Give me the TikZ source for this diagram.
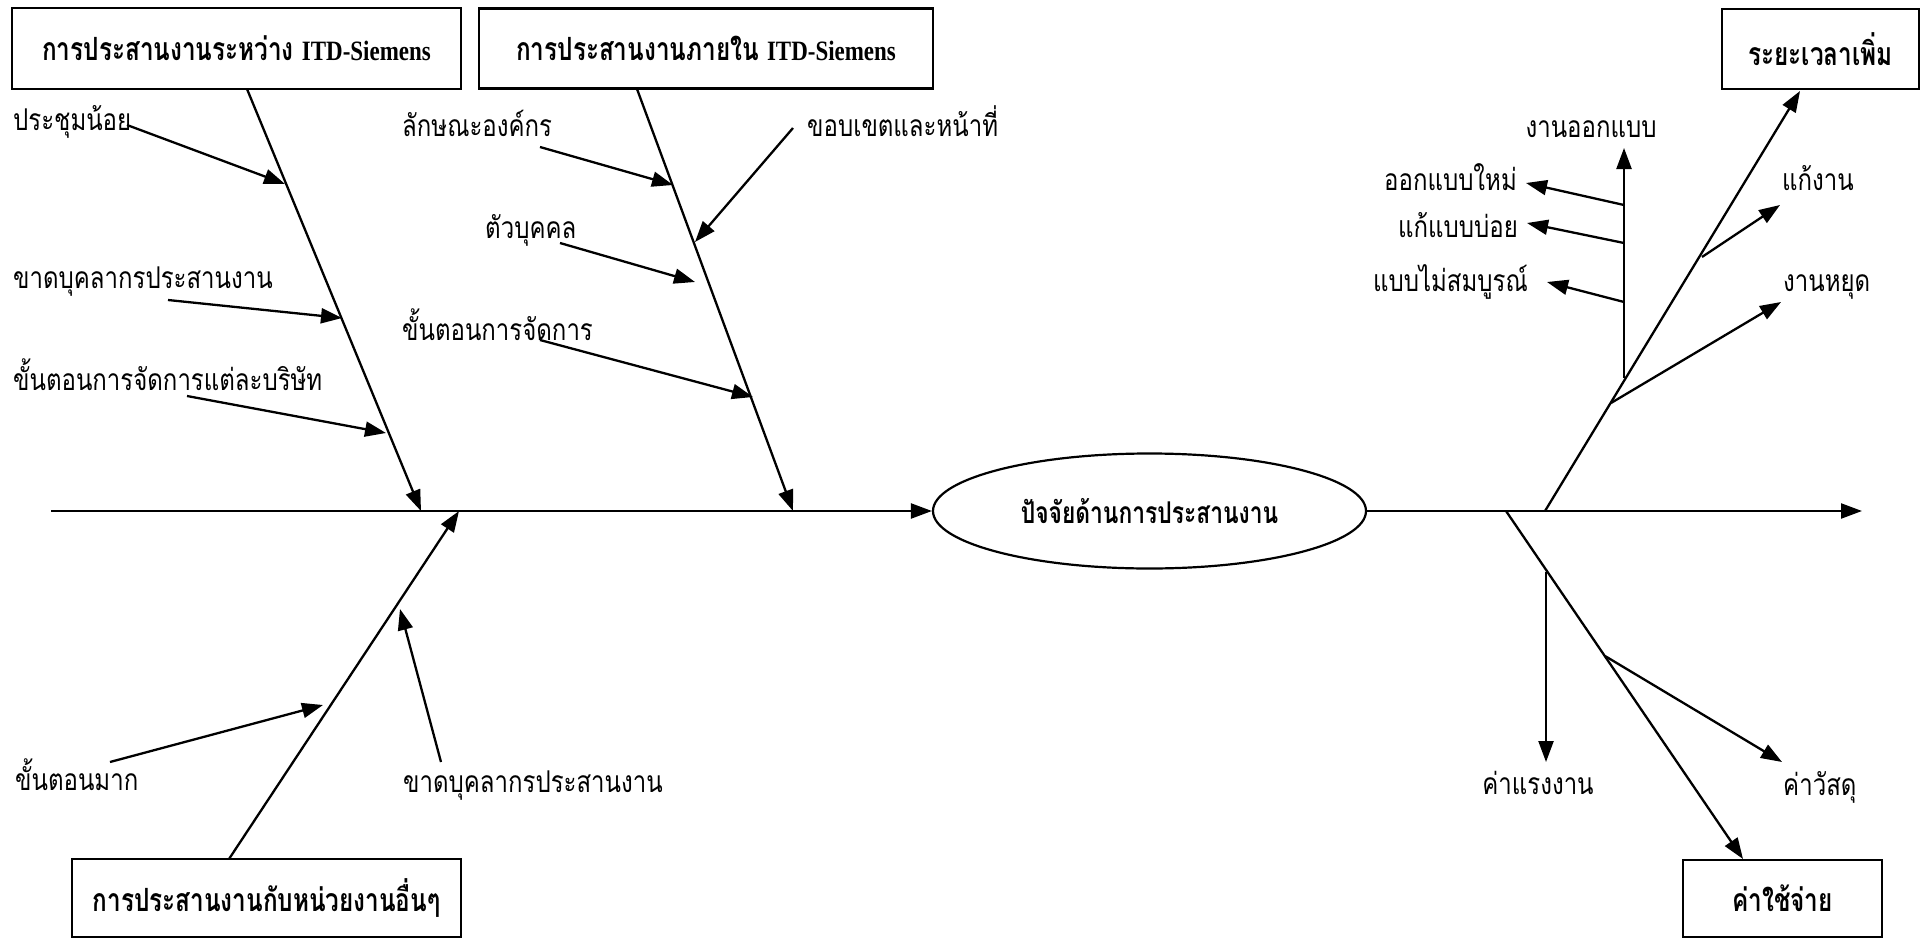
\documentclass[tikz,border=0pt]{standalone}
\usepackage{fontspec}
\setmainfont{Liberation Serif}
\newfontfamily\thai[Script=Thai,FakeStretch=0.8]{Loma}
\newfontfamily\thaib[Script=Thai,FakeStretch=0.76]{Loma}
\newfontfamily\latb[FakeStretch=0.82]{Liberation Serif}
\usetikzlibrary{arrows.meta,shapes.geometric}
\newcommand{\itd}{{\latb\bfseries\fontsize{28}{30}\selectfont ITD-Siemens}}
\begin{document}
\begin{tikzpicture}[x=1pt,y=-1pt,
  arr/.style={line width=2.3pt,-{Triangle[length=21pt,width=15pt]}},
  box/.style={draw,line width=2.4pt,inner sep=0pt,font=\thaib\bfseries\fontsize{32}{34}\selectfont},
  lbl/.style={inner sep=0pt,font=\thai\fontsize{30}{32}\selectfont},
  bw/.style={lbl,anchor=base west},
  be/.style={lbl,anchor=base east},
  bc/.style={lbl,anchor=base}]
\useasboundingbox (0,0) rectangle (1921,939);
% boxes
\node[box,minimum width=449pt,minimum height=81pt] (b1) at (236.5,48.5) {การประสานงานระหว่าง \itd};
\node[box,minimum width=454pt,minimum height=80pt] (b2) at (706,48.5) {การประสานงานภายใน \itd};
\node[box,minimum width=389pt,minimum height=78pt] (b3) at (266.5,898) {การประสานงานกับหน่วยงานอื่นๆ};
\node[box,minimum width=197pt,minimum height=80pt] (b4) at (1820.5,49) {ระยะเวลาเพิ่ม};
\node[box,minimum width=199pt,minimum height=77pt] (b5) at (1782.5,898.5) {ค่าใช้จ่าย};
\node[ellipse,draw,line width=2.2pt,inner sep=0pt,minimum width=433pt,minimum height=115pt,
  font=\thaib\bfseries\fontsize{30}{32}\selectfont] (eff) at (1149.5,511) {ปัจจัยด้านการประสานงาน};
% spine
\coordinate (tail) at (51,511);
\coordinate (head) at (1862,511);
\coordinate (J1) at (421,511);
\coordinate (J2) at (793,511);
\coordinate (J3) at (459,511);
\coordinate (J4) at (1545,511);
\coordinate (J5) at (1506,511);
\coordinate (b1t) at (247,89);
\coordinate (b2t) at (637,89);
\coordinate (b3t) at (229,859);
\coordinate (b4t) at (1800,91);
\coordinate (b5t) at (1743,859);
\draw[arr] (tail) -- (eff.west);
\draw[arr] (eff.east) -- (head);
\draw[arr] (b1t) -- (J1);
\draw[arr] (b2t) -- (J2);
\draw[arr] (b3t) -- (J3);
\draw[arr] (J4) -- (b4t);
\draw[arr] (J5) -- (b5t);
% labels bone 1
\node[bw] (l1) at (13,131) {ประชุมน้อย};
\node[bw] (l2) at (13,288) {ขาดบุคลากรประสานงาน};
\node[bw] (l3) at (13,390) {ขั้นตอนการจัดการแต่ละบริษัท};
\coordinate (l1s) at (127,125); \coordinate (l1e) at (285,184);
\coordinate (l2s) at (168,300); \coordinate (l2e) at (342,318);
\coordinate (l3s) at (187,396); \coordinate (l3e) at (386,433);
\draw[arr] (l1s) -- (l1e);
\draw[arr] (l2s) -- (l2e);
\draw[arr] (l3s) -- (l3e);
% labels bone 2
\node[bw] (m1) at (402,136) {ลักษณะองค์กร};
\node[bw] (m2) at (807,136) {ขอบเขตและหน้าที่};
\node[bw] (m3) at (485,238) {ตัวบุคคล};
\node[bw] (m4) at (402,340) {ขั้นตอนการจัดการ};
\coordinate (m1s) at (540,147); \coordinate (m1e) at (673,185);
\coordinate (m2s) at (793,128); \coordinate (m2e) at (695,242);
\coordinate (m3s) at (560,243); \coordinate (m3e) at (695,282);
\coordinate (m4s) at (540,340); \coordinate (m4e) at (753,397);
\draw[arr] (m1s) -- (m1e);
\draw[arr] (m2s) -- (m2e);
\draw[arr] (m3s) -- (m3e);
\draw[arr] (m4s) -- (m4e);
% labels bone 3
\node[bw] (n1) at (15,790) {ขั้นตอนมาก};
\node[bw] (n2) at (403,792) {ขาดบุคลากรประสานงาน};
\coordinate (n1s) at (110,762); \coordinate (n1e) at (323,705);
\coordinate (n2s) at (441,762); \coordinate (n2e) at (400,609);
\draw[arr] (n1s) -- (n1e);
\draw[arr] (n2s) -- (n2e);
% upper right
\node[bc] (r0) at (1591,138) {งานออกแบบ};
\node[be] (r1) at (1517,190) {ออกแบบใหม่};
\node[be] (r2) at (1518,237) {แก้แบบบ่อย};
\node[be] (r3) at (1528,291) {แบบไม่สมบูรณ์};
\node[bw] (r4) at (1782,190) {แก้งาน};
\node[bw] (r5) at (1783,291) {งานหยุด};
\coordinate (r0s) at (1624,378); \coordinate (r0e) at (1624,148);
\coordinate (r1s) at (1624,205); \coordinate (r1e) at (1526,183);
\coordinate (r2s) at (1624,243); \coordinate (r2e) at (1527,223);
\coordinate (r3s) at (1624,302); \coordinate (r3e) at (1547,282);
\coordinate (r4s) at (1702,257); \coordinate (r4e) at (1780,205);
\coordinate (r5s) at (1611,403); \coordinate (r5e) at (1781,302);
\draw[arr] (r0s) -- (r0e);
\draw[arr] (r1s) -- (r1e);
\draw[arr] (r2s) -- (r2e);
\draw[arr] (r3s) -- (r3e);
\draw[arr] (r4s) -- (r4e);
\draw[arr] (r5s) -- (r5e);
% lower right
\node[bc] (s1) at (1538,794) {ค่าแรงงาน};
\node[bw] (s2) at (1783,795) {ค่าวัสดุ};
\coordinate (s1s) at (1546,572); \coordinate (s1e) at (1546,762);
\coordinate (s2s) at (1605,656); \coordinate (s2e) at (1782,762);
\draw[arr] (s1s) -- (s1e);
\draw[arr] (s2s) -- (s2e);
\end{tikzpicture}
\end{document}
